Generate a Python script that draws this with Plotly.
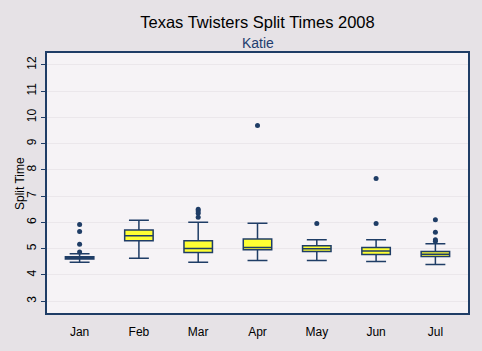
import plotly.graph_objects as go

months = ["Jan", "Feb", "Mar", "Apr", "May", "Jun", "Jul"]
q1 = [4.61, 5.30, 4.85, 4.96, 4.89, 4.78, 4.70]
median = [4.65, 5.49, 5.01, 5.04, 5.00, 4.91, 4.79]
q3 = [4.69, 5.71, 5.30, 5.37, 5.11, 5.04, 4.89]
lower = [4.48, 4.63, 4.48, 4.55, 4.55, 4.51, 4.40]
upper = [4.81, 6.08, 6.01, 5.97, 5.34, 5.34, 5.19]
outlier_month = ["Jan", "Jan", "Jan", "Jan", "Mar", "Mar", "Mar", "Mar",
                 "Apr", "May", "Jun", "Jun", "Jul", "Jul", "Jul", "Jul"]
outlier_value = [5.92, 5.65, 5.17, 4.87, 6.50, 6.43, 6.35, 6.20,
                 9.69, 5.96, 7.67, 5.96, 6.10, 5.62, 5.34, 5.28]
y_ticks = [3, 4, 5, 6, 7, 8, 9, 10, 11, 12]

navy = "#1f3d66"
font = "Liberation Sans, Arial, sans-serif"

fig = go.Figure()
fig.add_trace(go.Box(
    x=months, q1=q1, median=median, q3=q3,
    lowerfence=lower, upperfence=upper,
    fillcolor="#ffff33", line=dict(color=navy, width=1.5),
    width=0.48, whiskerwidth=0.7, boxpoints=False, showlegend=False,
))
fig.add_trace(go.Scatter(
    x=outlier_month, y=outlier_value, mode="markers",
    marker=dict(symbol="circle", size=5, color=navy),
    showlegend=False, hoverinfo="y",
))

fig.update_layout(
    width=482, height=351,
    margin=dict(l=47, r=14, t=53, b=32),
    paper_bgcolor="#e6e2e6", plot_bgcolor="#f6f3f6",
    font=dict(family=font, size=12, color="#000000"),
    title=dict(text="Texas Twisters Split Times 2008", x=0.5, xref="paper",
               y=1 - 22 / 351, yanchor="middle",
               font=dict(size=16.5, color="#000000", family=font)),
    annotations=[
        dict(text="Katie", x=0.5, xref="paper", y=(319 - 43) / 266,
             yref="paper", yanchor="middle", showarrow=False,
             font=dict(size=14, color="#1f3d6e", family=font)),
        dict(text="Split Time", x=(20 - 47) / 421, xref="paper", y=0.5,
             yref="paper", xanchor="center", yanchor="middle", textangle=-90,
             showarrow=False, font=dict(size=12, color="#000000", family=font)),
    ],
)
fig.update_xaxes(
    type="category", categoryorder="array", categoryarray=months,
    range=[-0.55, 6.55], showgrid=False,
    ticks="outside", ticklen=7, tickcolor="rgba(0,0,0,0)",
    showline=True, linecolor=navy, linewidth=2, mirror=True,
    tickfont=dict(size=12, color="#000000"), zeroline=False,
)
fig.update_yaxes(
    range=[2.55, 12.45], tickvals=y_ticks, tickangle=-90,
    showgrid=True, gridcolor="#ebe7eb", gridwidth=1,
    ticks="outside", ticklen=4, tickcolor=navy,
    showline=True, linecolor=navy, linewidth=1.5, mirror=True,
    zeroline=False, tickfont=dict(size=12, color="#000000"),
)

fig.write_html("out.html")
